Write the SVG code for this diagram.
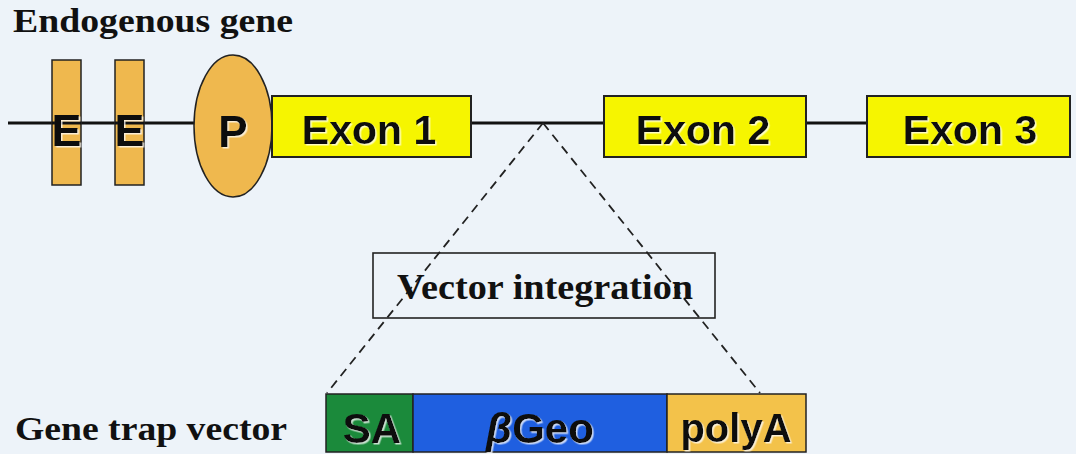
<svg xmlns="http://www.w3.org/2000/svg" width="1076" height="454" viewBox="0 0 1076 454">
  <defs>
    <filter id="shadow" x="-10%" y="-10%" width="130%" height="130%">
      <feDropShadow dx="1.5" dy="1.5" stdDeviation="0.6" flood-color="#ffffff" flood-opacity="0.75"/>
    </filter>
    <style>
      .serif { font-family: "Liberation Serif", "Times New Roman", serif; font-weight: bold; fill: #111; }
      .sans { font-family: "Liberation Sans", Arial, sans-serif; font-weight: bold; fill: #111; text-anchor: middle; filter: url(#shadow); }
      .exon { fill: #f6f500; stroke: #222; stroke-width: 2; }
      .orange { fill: #efb84e; stroke: #222; stroke-width: 1.5; }
      .dash { stroke: #222; stroke-width: 1.8; stroke-dasharray: 9 6; fill: none; }
    </style>
  </defs>
  <rect x="0" y="0" width="1076" height="454" fill="#edf3f9"/>

  <text class="serif" x="13" y="32" font-size="34" textLength="280" lengthAdjust="spacingAndGlyphs">Endogenous gene</text>

  <g id="connectors">
    <line x1="8" y1="123" x2="868" y2="123" stroke="#111" stroke-width="3"/>
    <line class="dash" x1="543" y1="123" x2="327" y2="393"/>
    <line class="dash" x1="543" y1="123" x2="760" y2="393"/>
  </g>

  <g id="enhancer1">
    <rect class="orange" x="52" y="60" width="29" height="125"/>
    <line x1="52" y1="123" x2="81" y2="123" stroke="#111" stroke-width="3"/>
    <text class="sans" x="66.5" y="146" font-size="45">E</text>
  </g>
  <g id="enhancer2">
    <rect class="orange" x="115" y="60" width="29" height="125"/>
    <line x1="115" y1="123" x2="144" y2="123" stroke="#111" stroke-width="3"/>
    <text class="sans" x="129.5" y="146" font-size="45">E</text>
  </g>
  <g id="promoter">
    <ellipse class="orange" cx="233" cy="126" rx="39" ry="71"/>
    <text class="sans" x="233" y="147" font-size="44">P</text>
  </g>
  <g id="exon1">
    <rect class="exon" x="272" y="96" width="199" height="61"/>
    <text class="sans" x="369" y="144" font-size="41">Exon 1</text>
  </g>
  <g id="exon2">
    <rect class="exon" x="604" y="96" width="202" height="61"/>
    <text class="sans" x="703" y="144" font-size="41">Exon 2</text>
  </g>
  <g id="exon3">
    <rect class="exon" x="867" y="96" width="203" height="61"/>
    <text class="sans" x="970" y="144" font-size="41">Exon 3</text>
  </g>

  <g id="vector-integration">
    <rect x="373" y="253" width="342" height="65" fill="none" stroke="#222" stroke-width="1.6"/>
    <text class="serif" x="397" y="299" font-size="35" textLength="296" lengthAdjust="spacingAndGlyphs">Vector integration</text>
  </g>

  <text class="serif" x="15" y="440" font-size="33" textLength="272" lengthAdjust="spacingAndGlyphs">Gene trap vector</text>

  <g id="gene-trap-vector">
    <g id="sa">
      <rect x="326" y="394" width="87" height="58" fill="#1b8a3b" stroke="#222" stroke-width="1.5"/>
      <text class="sans" x="372" y="443" font-size="42">SA</text>
    </g>
    <g id="bgeo">
      <rect x="413" y="394" width="254" height="58" fill="#1f5fe0" stroke="#222" stroke-width="1.5"/>
      <text class="sans" x="540" y="443" font-size="42"><tspan font-style="italic">β</tspan>Geo</text>
    </g>
    <g id="polya">
      <rect x="667" y="394" width="139" height="58" fill="#f3c24a" stroke="#222" stroke-width="1.5"/>
      <text class="sans" x="736" y="442" font-size="40">polyA</text>
    </g>
  </g>
</svg>
